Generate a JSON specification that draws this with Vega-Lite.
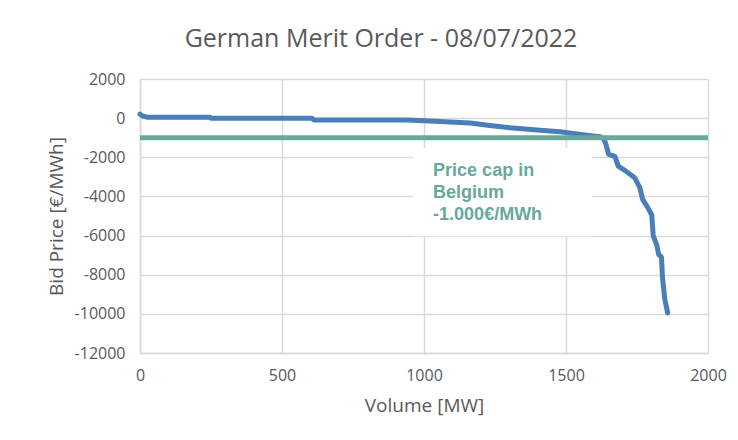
{
  "$schema": "https://vega.github.io/schema/vega-lite/v6.json",
  "autosize": {"type": "none"},
  "width": 568,
  "height": 274,
  "padding": {"left": 140, "top": 79, "right": 30, "bottom": 87},
  "background": "white",
  "title": {
    "text": "German Merit Order - 08/07/2022",
    "font": "Open Sans",
    "fontSize": 25,
    "fontWeight": "normal",
    "color": "#595959",
    "anchor": "middle",
    "dx": -43,
    "offset": 19
  },
  "datasets": {
    "merit": [
      {"volume": 0, "price": 200},
      {"volume": 8, "price": 120},
      {"volume": 25, "price": 50},
      {"volume": 245, "price": 50},
      {"volume": 250, "price": 0},
      {"volume": 605, "price": 0},
      {"volume": 612, "price": -90},
      {"volume": 940, "price": -90},
      {"volume": 1000, "price": -130},
      {"volume": 1056, "price": -170},
      {"volume": 1162, "price": -250},
      {"volume": 1232, "price": -380},
      {"volume": 1303, "price": -490},
      {"volume": 1398, "price": -600},
      {"volume": 1479, "price": -700},
      {"volume": 1532, "price": -800},
      {"volume": 1580, "price": -880},
      {"volume": 1620, "price": -950},
      {"volume": 1632, "price": -1050},
      {"volume": 1640, "price": -1300},
      {"volume": 1650, "price": -1850},
      {"volume": 1672, "price": -1950},
      {"volume": 1684, "price": -2450},
      {"volume": 1712, "price": -2720},
      {"volume": 1742, "price": -3050},
      {"volume": 1760, "price": -3550},
      {"volume": 1770, "price": -4150},
      {"volume": 1788, "price": -4570},
      {"volume": 1802, "price": -4950},
      {"volume": 1807, "price": -6000},
      {"volume": 1820, "price": -6500},
      {"volume": 1826, "price": -6950},
      {"volume": 1836, "price": -7100},
      {"volume": 1840, "price": -8200},
      {"volume": 1848, "price": -9250},
      {"volume": 1858, "price": -9950}
    ],
    "cap": [
      {"volume": 0, "price": -1000},
      {"volume": 2000, "price": -1000}
    ],
    "box": [
      {"x1": 961, "x2": 1592, "y1": -1510, "y2": -6040}
    ],
    "note": [
      {"volume": 1032, "price": -2720, "label": ["Price cap in", "Belgium", "-1.000€/MWh"]}
    ]
  },
  "encoding": {
    "x": {
      "field": "volume",
      "type": "quantitative",
      "scale": {"domain": [0, 2000], "nice": false},
      "axis": {
        "title": "Volume [MW]",
        "values": [0, 500, 1000, 1500, 2000],
        "labelExpr": "'' + datum.value",
        "labelFlush": false,
        "labelOverlap": false,
        "labelPadding": 14,
        "titlePadding": 13
      }
    },
    "y": {
      "field": "price",
      "type": "quantitative",
      "scale": {"domain": [-12000, 2000], "nice": false},
      "axis": {
        "title": "Bid Price [€/MWh]",
        "values": [2000, 0, -2000, -4000, -6000, -8000, -10000, -12000],
        "labelExpr": "'' + datum.value",
        "labelFlush": false,
        "labelOverlap": false,
        "labelPadding": 15,
        "titlePadding": 8
      }
    }
  },
  "layer": [
    {
      "data": {"name": "box"},
      "mark": {"type": "rect", "fill": "white"},
      "encoding": {
        "x": {"field": "x1", "type": "quantitative"},
        "x2": {"field": "x2"},
        "y": {"field": "y1", "type": "quantitative"},
        "y2": {"field": "y2"}
      }
    },
    {
      "data": {"name": "merit"},
      "mark": {"type": "line", "color": "#4a7ebb", "strokeWidth": 5, "strokeCap": "round", "strokeJoin": "round"}
    },
    {
      "data": {"name": "cap"},
      "mark": {"type": "line", "color": "#67a99a", "strokeWidth": 5}
    },
    {
      "data": {"name": "note"},
      "mark": {
        "type": "text",
        "align": "left",
        "baseline": "middle",
        "font": "Liberation Sans",
        "fontWeight": "bold",
        "fontSize": 18,
        "lineHeight": 21.7,
        "color": "#67a99a"
      },
      "encoding": {"text": {"field": "label"}}
    }
  ],
  "config": {
    "view": {"stroke": null},
    "axis": {
      "labelFont": "Open Sans",
      "labelFontSize": 16,
      "labelColor": "#595959",
      "titleFont": "Open Sans",
      "titleFontSize": 19,
      "titleFontWeight": "normal",
      "titleColor": "#595959",
      "gridColor": "#d9d9d9",
      "gridWidth": 1.5,
      "gridOpacity": 1,
      "domainColor": "#d9d9d9",
      "domainWidth": 1.5,
      "ticks": false
    }
  }
}
